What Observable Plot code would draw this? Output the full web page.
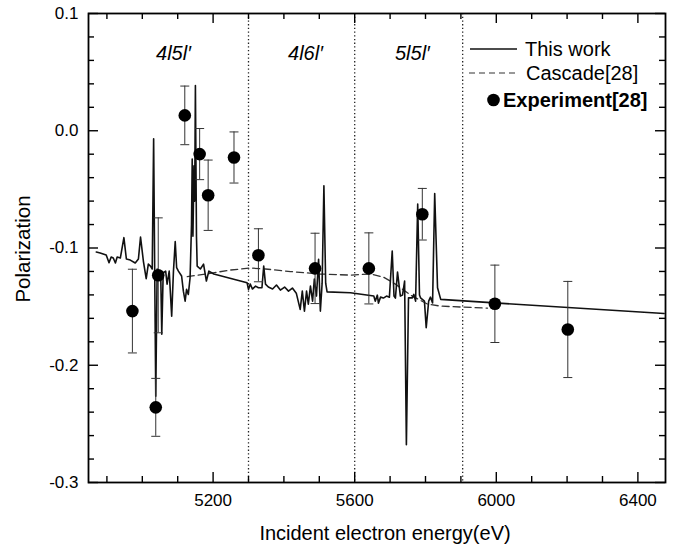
<!DOCTYPE html>
<html><head><meta charset="utf-8">
<script src="https://cdn.jsdelivr.net/npm/d3@7"></script>
<script src="https://cdn.jsdelivr.net/npm/@observablehq/plot@0.6"></script>
<style>
body{margin:0;background:#fff;}
svg{font-family:"Liberation Sans",Arial,sans-serif;}
</style>
</head><body><div id="chart"></div>
<script>
// ---- data ----
const thisWorkE = [4870,4881,4898,4906,4912,4918,4924,4929,4938,4948,4955,4966,4980,4989,4995,5003,5011,5017,5023,5028,
  5032,5035,5038,5042,5048,5052,5055,5059,5066,5070,5076,5083,5088,5093,5097,5102,5111,5116,5121,5125,5130,5135,
  5139,5141,5143,5146,5148,5150,5153,5155,5164,5173,5181,5188,5202,5296,5300,5305,5311,5320,5328,5338,5343,5348,
  5356,5368,5379,5390,5402,5413,5424,5435,5446,5452,5458,5464,5469,5475,5481,5486,5492,5498,5503,5508,5513,5518,
  5522,5588,5654,5658,5664,5667,5673,5681,5690,5698,5706,5711,5715,5721,5729,5735,5741,5746,5752,5763,5767,5772,
  5778,5783,5786,5797,5802,5809,5814,5820,5826,5834,5843,5995,6474];
const thisWorkP = [-0.1034,-0.1043,-0.1060,-0.1126,-0.1077,-0.1085,-0.1128,-0.1077,-0.1085,-0.0912,-0.1094,-0.1103,
  -0.1128,-0.1094,-0.0906,-0.1111,-0.1262,-0.1137,-0.1154,-0.1179,
  -0.0068,-0.1200,-0.2265,-0.1179,-0.1197,-0.1220,-0.1735,-0.1211,-0.1197,-0.1308,-0.1197,-0.1581,-0.1197,-0.0946,
  -0.1168,-0.1197,-0.1239,-0.1368,-0.1453,-0.1353,-0.1396,-0.1254,
  -0.0800,-0.0242,-0.0900,-0.0300,-0.0600,0.0385,-0.0900,-0.1154,-0.1179,-0.1137,-0.1282,-0.1197,-0.1222,-0.1297,
  -0.1353,-0.1308,-0.1350,-0.1325,-0.1339,-0.1339,-0.1154,-0.1308,
  -0.1333,-0.1350,-0.1316,-0.1359,-0.1333,-0.1368,-0.1342,-0.1385,-0.1524,-0.1368,-0.1538,-0.1368,-0.1479,-0.1325,
  -0.1453,-0.1265,-0.1410,-0.1097,-0.1538,-0.1300,-0.0470,-0.1300,
  -0.1374,-0.1382,-0.1410,-0.1453,-0.1402,-0.1470,-0.1419,-0.1427,-0.1410,-0.1419,-0.1026,-0.1410,-0.1427,-0.1205,
  -0.1410,-0.1402,-0.1282,-0.2678,-0.1425,-0.1425,-0.1396,-0.1453,
  -0.0626,-0.1400,-0.1425,-0.1453,-0.1680,-0.1453,-0.1419,-0.1468,-0.0536,-0.1339,-0.1438,-0.1468,-0.1558];

const cascadeE = [5127,5184,5249,5305,5348,5419,5503,5588,5644,5681,5715,5758,5806,5843,5975];
const cascadeP = [-0.1244,-0.1220,-0.1188,-0.1171,-0.1179,-0.1201,-0.1222,-0.1231,-0.1222,-0.1248,-0.1308,-0.1402,-0.1479,-0.1496,-0.1513];

const expE   = [4972,5038,5045,5120,5162,5186,5259,5328,5488,5640,5791,5996,6202];
const expP   = [-0.1538,-0.2359,-0.1233,0.0131,-0.0199,-0.0550,-0.0228,-0.1062,-0.1174,-0.1174,-0.0712,-0.1476,-0.1695];
const expErr = [0.0357,0.0247,0.0490,0.0250,0.0218,0.0300,0.0218,0.0226,0.0300,0.0303,0.0220,0.0330,0.0410];

const dividerE = [5300, 5600, 5905];
const regionLabels = ["4l5l\u2032", "4l6l\u2032", "5l5l\u2032"];
const regionE = [5088, 5461, 5763];
const regionP = 0.066;

const xMajor = [5200, 5600, 6000, 6400];
const xMinor = [4900,5000,5100,5300,5400,5500,5700,5800,5900,6100,6200,6300];
const yMajor = [0.1, 0, -0.1, -0.2, -0.3];
const yMinor = [0.08,0.06,0.04,0.02,-0.02,-0.04,-0.06,-0.08,-0.12,-0.14,-0.16,-0.18,-0.22,-0.24,-0.26,-0.28];

const legendItems = ["This work", "Cascade[28]", "Experiment[28]"];

// ---- layout ----
const W = 677, H = 550, mL = 88, mR = 12, mT = 13, mB = 68;
const frameW = W - mL - mR, frameH = H - mT - mB;

// ---- tables ----
const thisWork = thisWorkE.map((e, i) => ({e, p: thisWorkP[i]}));
const cascade = cascadeE.map((e, i) => ({e, p: cascadeP[i]}));
const exp = expE.map((e, i) => ({e, p: expP[i], lo: expP[i] - expErr[i], hi: expP[i] + expErr[i]}));

const capSymbol = {draw(ctx) { ctx.moveTo(-4.5, 0); ctx.lineTo(4.5, 0); }};

// inward ticks on all four sides, as frame-spanning rules trimmed by insets
const tickMarks = [];
for (const [ticks, len] of [[xMajor, 10], [xMinor, 6]]) {
  tickMarks.push(Plot.ruleX(ticks, {insetTop: frameH - len, stroke: "#000", strokeWidth: 1.4}));
  tickMarks.push(Plot.ruleX(ticks, {insetBottom: frameH - len, stroke: "#000", strokeWidth: 1.4}));
}
for (const [ticks, len] of [[yMajor, 10], [yMinor, 6]]) {
  tickMarks.push(Plot.ruleY(ticks, {insetRight: frameW - len, stroke: "#000", strokeWidth: 1.4}));
  tickMarks.push(Plot.ruleY(ticks, {insetLeft: frameW - len, stroke: "#000", strokeWidth: 1.4}));
}

const chart = Plot.plot({
  width: W, height: H,
  marginLeft: mL, marginRight: mR, marginTop: mT, marginBottom: mB,
  style: {fontFamily: "Liberation Sans, Arial, sans-serif", fontSize: "17px", color: "#000", background: "#fff"},
  x: {domain: [4848, 6478]},
  y: {domain: [-0.3, 0.1]},
  marks: [
    Plot.ruleX(dividerE, {strokeDasharray: "1.3,2.4", strokeWidth: 1.3, stroke: "#222"}),
    Plot.line(cascade, {x: "e", y: "p", strokeDasharray: "7,4", strokeWidth: 1.3, stroke: "#333"}),
    Plot.line(thisWork, {x: "e", y: "p", strokeWidth: 1.6, stroke: "#111"}),
    Plot.ruleX(exp, {x: "e", y1: "lo", y2: "hi", stroke: "#333", strokeWidth: 1}),
    Plot.dot(exp, {x: "e", y: "lo", symbol: capSymbol, stroke: "#333", fill: "none", strokeWidth: 1}),
    Plot.dot(exp, {x: "e", y: "hi", symbol: capSymbol, stroke: "#333", fill: "none", strokeWidth: 1}),
    Plot.dot(exp, {x: "e", y: "p", r: 6.3, fill: "#000", stroke: "none"}),
    Plot.text(regionLabels, {x: (d, i) => regionE[i], y: () => regionP, text: d => d, fontStyle: "italic", fontSize: 20, fill: "#000"}),
    ...tickMarks,
    Plot.axisX({anchor: "bottom", ticks: xMajor, tickSize: 0, tickPadding: 11, tickFormat: d => String(d), label: null, fontSize: 17}),
    Plot.axisY({anchor: "left", ticks: yMajor, tickSize: 0, tickPadding: 10, tickFormat: d => d.toFixed(1), label: null, fontSize: 17}),
    Plot.frame({strokeWidth: 1.8, stroke: "#000"})
  ]
});
document.getElementById("chart").appendChild(chart);

// axis titles and legend
const svg = d3.select(chart);
svg.append("text").attr("x", 385).attr("y", 540).attr("text-anchor", "middle")
  .attr("font-size", 20).attr("fill", "#000").text("Incident electron energy(eV)");
svg.append("text").attr("transform", "translate(30,249) rotate(-90)").attr("text-anchor", "middle")
  .attr("font-size", 20.5).attr("fill", "#000").text("Polarization");

const lg = svg.append("g").attr("font-size", 20).attr("fill", "#000").attr("text-anchor", "start");
lg.append("line").attr("x1", 470).attr("x2", 517).attr("y1", 49).attr("y2", 49).attr("stroke", "#111").attr("stroke-width", 1.3);
lg.append("text").attr("x", 525).attr("y", 49).attr("dy", "0.35em").text(legendItems[0]);
lg.append("line").attr("x1", 469).attr("x2", 517).attr("y1", 73).attr("y2", 73).attr("stroke", "#333").attr("stroke-width", 1.2).attr("stroke-dasharray", "6,4");
lg.append("text").attr("x", 526).attr("y", 73).attr("dy", "0.35em").text(legendItems[1]);
lg.append("circle").attr("cx", 493.5).attr("cy", 100).attr("r", 6.3).attr("fill", "#000");
lg.append("text").attr("x", 503).attr("y", 100).attr("dy", "0.35em").attr("font-weight", "bold").text(legendItems[2]);
</script>
</body></html>
